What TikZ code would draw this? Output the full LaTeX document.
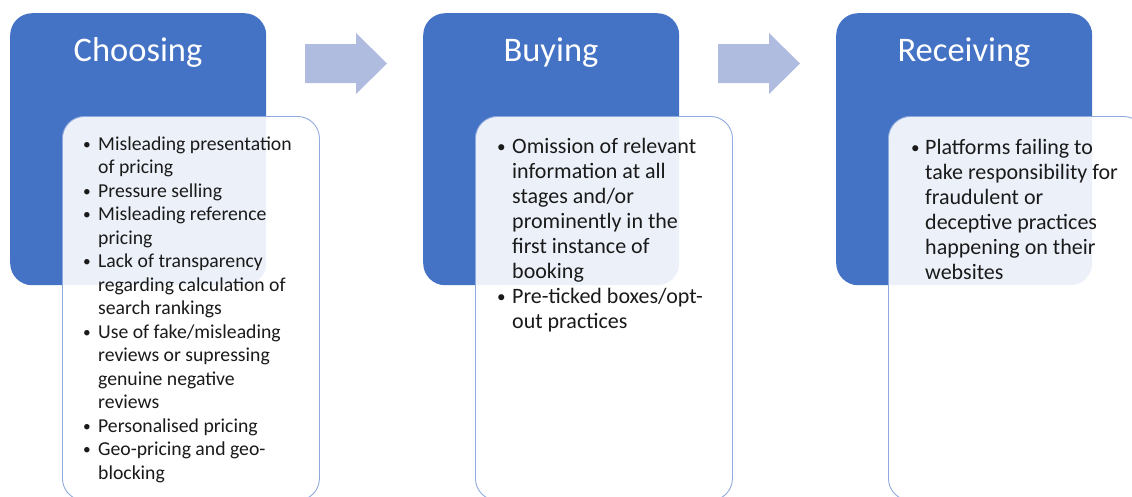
\documentclass[tikz,border=0pt]{standalone}
\usepackage{graphicx}
\usepackage{fontspec}
\setmainfont{Carlito}

\definecolor{stageblue}{HTML}{4472C4}
\definecolor{arrowblue}{HTML}{AFBCDF}
\definecolor{edgeblue}{HTML}{8FAADC}
\definecolor{bodytext}{HTML}{1A1A1A}

% bullet line and continuation line of a list
\newlength{\bulletgap}
\setlength{\bulletgap}{15pt}
\newcommand{\smallbullet}{\raisebox{0.6pt}{\scalebox{0.78}{•}}}
\newcommand{\pitem}[1]{\makebox[\bulletgap][l]{\smallbullet}#1}
\newcommand{\pcont}[1]{\hspace*{\bulletgap}#1}

\tikzset{
  stage/.style={fill=stageblue, rounded corners=22pt, minimum width=256pt,
    minimum height=272pt, inner sep=0pt, anchor=north west},
  panel/.style={draw=edgeblue, line width=0.9pt, fill=white, fill opacity=0.9,
    rounded corners=22pt, minimum width=257pt, minimum height=384pt,
    inner sep=0pt, anchor=north west},
  stagetitle/.style={text=white, font=\fontsize{34.5}{40}\selectfont,
    anchor=base, inner sep=0pt},
  items/.style={anchor=base west, text=bodytext, inner sep=0pt},
  flow/.style={fill=arrowblue}
}

\begin{document}
\begin{tikzpicture}[x=1pt,y=-1pt]
\useasboundingbox (0,0) rectangle (1132,496);
\clip (0,0) rectangle (1132,496);

% stage boxes
\node[stage] (b1) at (10,13) {};
\node[stage] (b2) at (423,13) {};
\node[stage] (b3) at (836,13) {};

% block arrows between the stages
\fill[flow] (305,44) -- (356,44) -- (356,33) -- (387,63.5) -- (356,94)
  -- (356,83) -- (305,83) -- cycle;
\fill[flow] (718,44) -- (769,44) -- (769,33) -- (800,63.5) -- (769,94)
  -- (769,83) -- (718,83) -- cycle;

% stage titles
\node[stagetitle] (t1) at (138,61) {Choosing};
\node[stagetitle] (t2) at (551,61) {Buying};
\node[stagetitle] (t3) at (964,61) {Receiving};

% detail panels
\node[panel] (p1) at (62,116) {};
\node[panel] (p2) at (475,116) {};
\node[panel] (p3) at (888,116) {};

% panel contents
\node[items] (l1) at (83,150) {\parbox[t]{240pt}{\fontsize{19.7}{23.5}\selectfont
\pitem{Misleading presentation}\\
\pcont{of pricing}\\
\pitem{Pressure selling}\\
\pitem{Misleading reference}\\
\pcont{pricing}\\
\pitem{Lack of transparency}\\
\pcont{regarding calculation of}\\
\pcont{search rankings}\\
\pitem{Use of fake/misleading}\\
\pcont{reviews or supressing}\\
\pcont{genuine negative}\\
\pcont{reviews}\\
\pitem{Personalised pricing}\\
\pitem{Geo-pricing and geo-}\\
\pcont{blocking}}};

\node[items] (l2) at (497,153) {\parbox[t]{240pt}{\fontsize{22}{25}\selectfont
\pitem{Omission of relevant}\\
\pcont{information at all}\\
\pcont{stages and/or}\\
\pcont{prominently in the}\\
\pcont{first instance of}\\
\pcont{booking}\\
\pitem{Pre-ticked boxes/opt-}\\
\pcont{out practices}}};

\node[items] (l3) at (911,154) {\parbox[t]{240pt}{\fontsize{22}{25}\selectfont
\setlength{\bulletgap}{14pt}%
\pitem{Platforms failing to}\\
\pcont{take responsibility for}\\
\pcont{fraudulent or}\\
\pcont{deceptive practices}\\
\pcont{happening on their}\\
\pcont{websites}}};
\end{tikzpicture}
\end{document}
